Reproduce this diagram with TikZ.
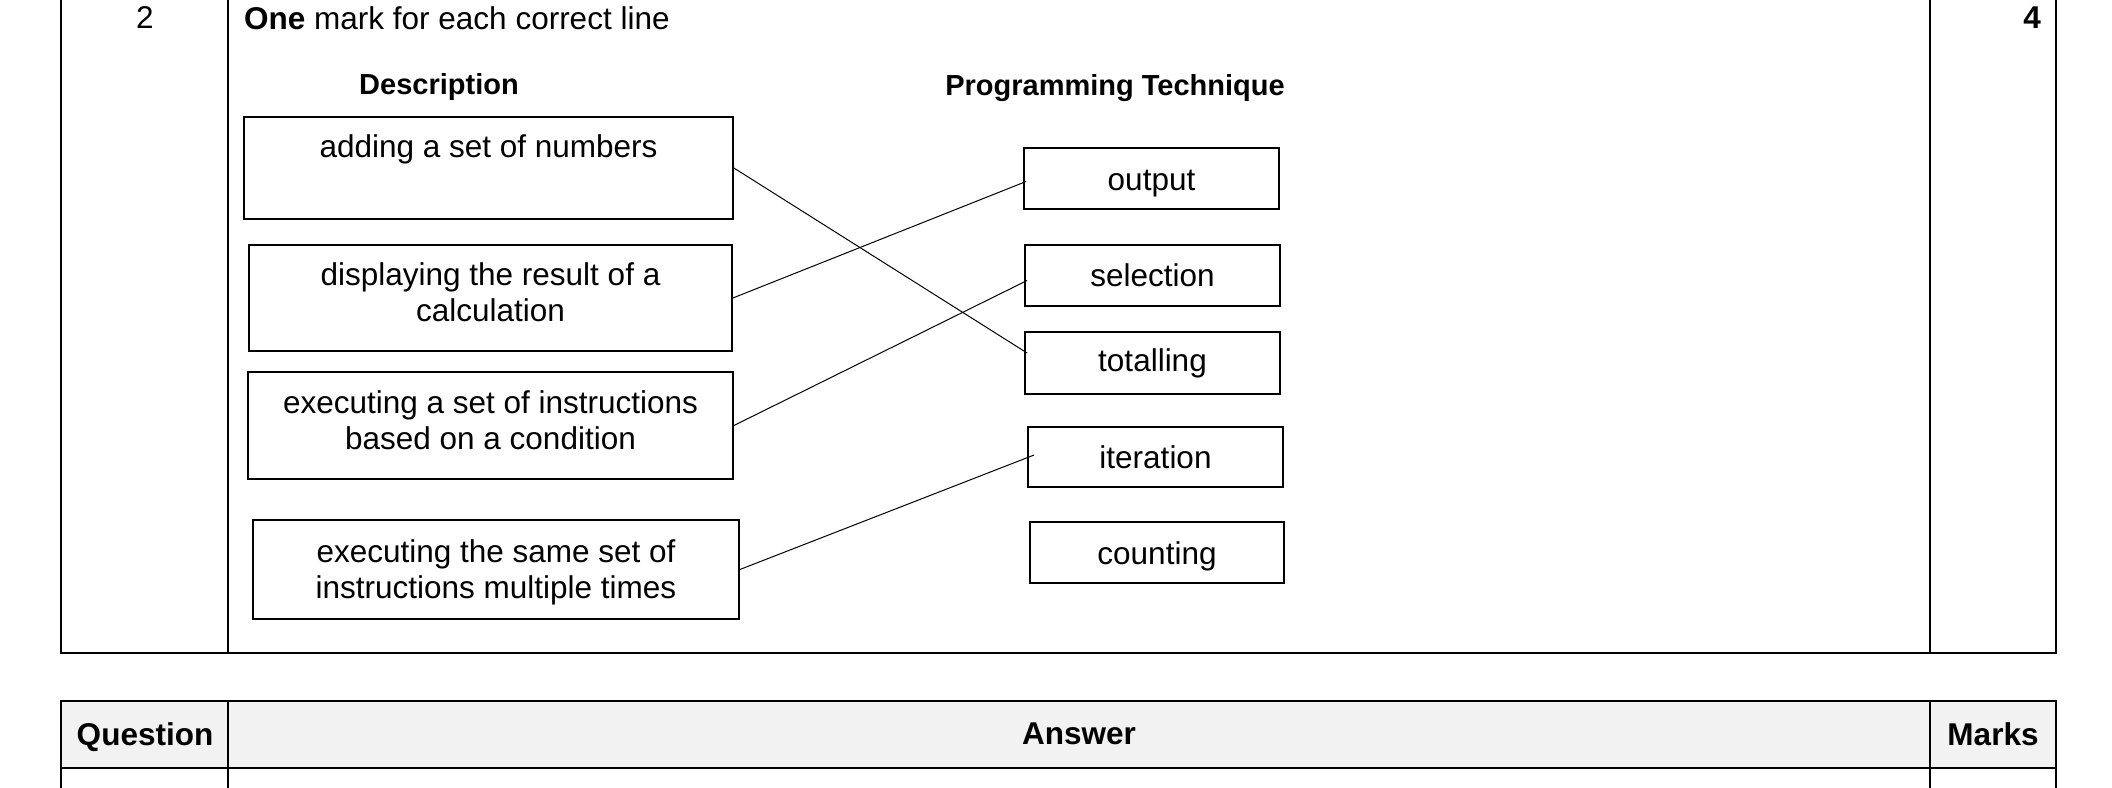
\documentclass[tikz,border=0pt]{standalone}
\usepackage{fontspec}
\setmainfont{Liberation Sans}
\newcommand{\msfont}{\fontsize{31.5}{36}\selectfont}
\newcommand{\headfont}{\fontsize{29}{34}\selectfont\bfseries}
\definecolor{headgray}{HTML}{F2F2F2}
\tikzset{
  descbox/.style={draw, line width=1.8pt, align=center, inner sep=0pt, font=\msfont, text height=58pt},
  techbox/.style={draw, line width=1.8pt, minimum width=255pt, minimum height=61pt, inner sep=0pt, font=\msfont, text height=23pt, text depth=0pt},
  matchline/.style={line width=1pt},
  grid/.style={line width=2pt}
}
\begin{document}
\begin{tikzpicture}[x=1pt, y=-1pt]
  \useasboundingbox (0,0) rectangle (2112,787);
  % mark scheme table
  \foreach \x in {61, 228, 1930, 2056} {
    \draw[grid] (\x,-2) -- (\x,653);
  }
  \draw[grid] (60,653) -- (2057,653);
  \node[font=\msfont] (qnum) at (145,18) {2};
  \node[font=\msfont, anchor=west, inner sep=0pt] (guide) at (244,18) {\textbf{One} mark for each correct line};
  \node[font=\msfont\bfseries] (mark) at (2032,18) {4};
  % column headings
  \node[font=\headfont] (deschead) at (439,87.5) {Description};
  \node[font=\headfont] (techhead) at (1115,88.5) {Programming Technique};
  % descriptions
  \node[descbox, minimum width=489pt, minimum height=102pt, text height=22pt, text depth=43pt] (desc1) at (488.5,168) {adding a set of numbers};
  \node[descbox, minimum width=483pt, minimum height=106pt, text depth=10.6pt] (desc2) at (490.5,298) {displaying the result of a\\ calculation};
  \node[descbox, minimum width=485pt, minimum height=107pt, text depth=9.8pt] (desc3) at (490.5,425.5) {executing a set of instructions\\ based on a condition};
  \node[descbox, minimum width=486pt, minimum height=99pt, text depth=0.2pt] (desc4) at (496,569.5) {executing the same set of\\ instructions multiple times};
  % techniques
  \node[techbox] (output) at (1151.5,178.5) {output};
  \node[techbox, text depth=2pt] (selection) at (1152.5,275.5) {selection};
  \node[techbox, minimum height=62pt, text depth=6.6pt] (totalling) at (1152.5,363) {totalling};
  \node[techbox, minimum height=60pt] (iteration) at (1155.5,457) {iteration};
  \node[techbox, minimum width=254pt] (counting) at (1157,552.5) {counting};
  % answer lines
  \draw[matchline] (desc1.east) -- ([shift={(3,-10)}]totalling.west);
  \draw[matchline] (desc2.east) -- ([shift={(3,3)}]output.west);
  \draw[matchline] (desc3.east) -- ([shift={(3,5)}]selection.west);
  \draw[matchline] (desc4.east) -- ([shift={(7,-2)}]iteration.west);
  % next table header
  \fill[headgray] (61,701) rectangle (2056,768);
  \draw[grid] (60,701) -- (2057,701);
  \draw[grid] (60,768) -- (2057,768);
  \foreach \x in {61, 228, 1930, 2056} {
    \draw[grid] (\x,701) -- (\x,790);
  }
  \node[font=\msfont\bfseries, text depth=0pt] (qhead) at (145,734) {Question};
  \node[font=\msfont\bfseries, text depth=0pt] (ahead) at (1079,734) {Answer};
  \node[font=\msfont\bfseries, text depth=0pt] (mhead) at (1993,734) {Marks};
\end{tikzpicture}
\end{document}
